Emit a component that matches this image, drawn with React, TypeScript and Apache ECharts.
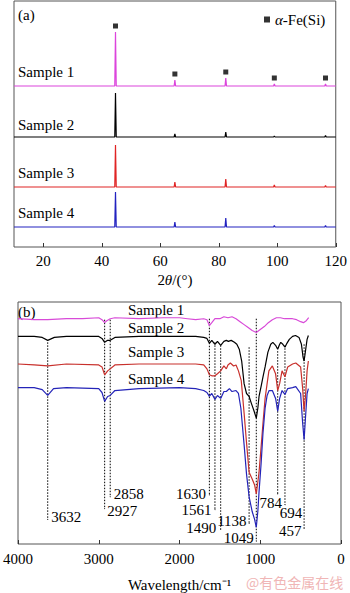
import React, { useEffect, useRef } from "react";
import * as echarts from "echarts";

// ---------- (a) XRD data ----------
const xrdTicks = [20, 40, 60, 80, 100, 120];
const xrdPeakPos = [44.7, 65.0, 82.4, 99.0, 116.5];
const xrdSample1 = [54, 6, 8, 2, 2];
const xrdSample2 = [44, 3, 5, 1, 1.5];
const xrdSample3 = [42, 5, 8, 2, 1.5];
const xrdSample4 = [35, 5, 9, 1.5, 1.5];
const xrdNames = ["Sample 1", "Sample 2", "Sample 3", "Sample 4"];

// ---------- (b) FTIR data (relative transmittance) ----------
const ftirWn1 = [4000, 3800, 3632, 3400, 3200, 3000, 2960, 2927, 2900, 2858, 2800, 2500, 2200, 2000, 1900, 1800, 1700, 1660, 1630, 1600, 1561, 1500, 1450, 1400, 1350, 1300, 1250, 1200, 1150, 1100, 1049, 1000, 950, 900, 850, 800, 750, 700, 650, 600, 550, 500, 465, 430, 400];
const ftirT1 = [0, -1, -1, 0, 0, 1, -1, -4, -2, 0, 1, 0, 1, 1, 0, -1, 0, -1, -7, -4, 0, 0, 2, 1, 2, 0, -3, -6, -9, -12, -14, -11, -8, -4, -1, 1, 1, 0, 0, 0, -1, -3, -4, -2, 1];

const ftirWn2 = [4000, 3800, 3700, 3632, 3550, 3400, 3000, 2960, 2927, 2890, 2858, 2800, 2500, 2200, 2000, 1800, 1700, 1660, 1630, 1600, 1561, 1530, 1490, 1450, 1420, 1395, 1360, 1320, 1290, 1260, 1230, 1200, 1170, 1138, 1110, 1080, 1049, 1030, 1015, 990, 966, 940, 905, 870, 844, 810, 784, 765, 746, 720, 694, 670, 640, 600, 563, 520, 490, 470, 457, 440, 420, 404];
const ftirT2 = [0, 0, -1, -4, -1, 0, 0, -2, -6, -4, -4, -1, 0, 0, 0, 0, -1, -2, -7, -4, -8, -5, -9, -5, -4, -5, -4, -6, -8, -13, -25, -48, -58, -61, -68, -75, -83, -73, -61, -51, -41, -31, -16, -8, -6, -9, -13, -9, -6, -8, -11, -7, -3, 0, 1, -1, -8, -21, -25, -15, -3, 1];

const ftirWn3 = [4000, 3800, 3632, 3400, 3000, 2960, 2927, 2890, 2858, 2800, 2500, 2000, 1800, 1700, 1660, 1630, 1600, 1561, 1530, 1490, 1450, 1420, 1400, 1370, 1330, 1300, 1270, 1235, 1200, 1170, 1138, 1100, 1070, 1049, 1030, 1015, 990, 966, 940, 915, 893, 850, 810, 784, 760, 730, 694, 660, 600, 560, 500, 475, 457, 440, 420, 404];
const ftirT3 = [0, -1, -2, 0, -1, -3, -11, -7, -5, -1, 0, 0, 0, -1, -5, -11, -12, -12, -10, -7, -2, -5, -1, 1, -2, -1, -7, -17, -50, -80, -110, -117, -123, -132, -120, -110, -85, -60, -35, -20, -7, -2, -10, -27, -20, -7, -13, -3, 0, 1, -3, -25, -48, -33, -7, 3];

const ftirWn4 = [4000, 3800, 3700, 3632, 3560, 3400, 3000, 2960, 2927, 2890, 2858, 2800, 2500, 2000, 1800, 1700, 1660, 1630, 1600, 1561, 1530, 1490, 1450, 1420, 1382, 1350, 1300, 1270, 1240, 1200, 1170, 1138, 1100, 1070, 1049, 1030, 1015, 990, 966, 940, 915, 890, 850, 810, 784, 760, 730, 694, 660, 600, 560, 500, 475, 457, 440, 420, 404];
const ftirT4 = [0, 0, -2, -8, -1, 0, -1, -5, -14, -9, -8, -3, -1, 0, -1, -3, -5, -9, -6, -12, -8, -11, -4, -4, -1, -4, -3, -6, -21, -58, -88, -111, -126, -134, -142, -126, -106, -78, -46, -21, -8, -3, -3, -11, -24, -11, -3, -7, -1, 0, 1, -6, -36, -53, -31, -6, -1];

const ftirPeakWn = [3632, 2927, 2858, 1630, 1561, 1490, 1138, 1049, 784, 694, 457];

// ---------- layout / style constants ----------
const FONT = '"Liberation Serif", "Times New Roman", serif';
const XRD_OFFSETS = [161, 110, 60, 20];
const XRD_MARK_GAP = 6;
const FTIR_OFFSETS = [229, 211, 183, 159];
const GUIDE_TOP = [205, 228, 228, 229, 205, 202, 200, 229, 196, 202, 203];
const GUIDE_BOTTOM = [25, 36, 48, 50, 35, 15, 21, 3, 51, 40, 16];
const GUIDE_LABEL: any[] = [
  { position: "right", distance: 3, offset: [0, -2] },
  { position: "right", distance: 2, offset: [0, 2] },
  { position: "right", distance: 3, offset: [0, -3] },
  { position: "left", distance: 3, offset: [0, -1] },
  { position: "left", distance: 3, offset: [0, 0] },
  { position: "left", distance: 4, offset: [0, -1] },
  { position: "left", distance: 2, offset: [0, -2] },
  { position: "left", distance: 2, offset: [0, -3] },
  { position: "bottom", distance: 1, offset: [-7, 0] },
  { position: "bottom", distance: 0, offset: [6, 0] },
  { position: "left", distance: 2, offset: [0, 3] },
];
const XRD_COLORS = ["#dc44dc", "#000000", "#e02424", "#2222c0"];
const FTIR_COLORS = ["#d84ad8", "#000000", "#c8302c", "#2424b8"];

function xrdSeriesData(heights: number[], offset: number) {
  const pts: number[][] = [[10, offset]];
  xrdPeakPos.forEach((p, i) => {
    pts.push([p - 0.25, offset], [p, offset + heights[i]], [p + 0.25, offset]);
  });
  pts.push([120, offset]);
  return pts;
}

export default function App() {
  const ref = useRef<HTMLDivElement>(null);
  useEffect(() => {
    if (!ref.current) return;
    const chart = echarts.init(ref.current, null, { renderer: "svg" });
    const xrdAll = [xrdSample1, xrdSample2, xrdSample3, xrdSample4];
    const ftirWnAll = [ftirWn1, ftirWn2, ftirWn3, ftirWn4];
    const ftirTAll = [ftirT1, ftirT2, ftirT3, ftirT4];

    const series: any[] = [];
    xrdAll.forEach((h, i) => {
      series.push({
        type: "line",
        name: xrdNames[i] + " XRD",
        xAxisIndex: 0,
        yAxisIndex: 0,
        data: xrdSeriesData(h, XRD_OFFSETS[i]),
        symbol: "none",
        lineStyle: { color: XRD_COLORS[i], width: 1.2 },
        z: 3,
      });
    });
    series.push({
      type: "scatter",
      name: "α-Fe(Si)",
      xAxisIndex: 0,
      yAxisIndex: 0,
      symbol: "rect",
      symbolSize: 5,
      itemStyle: { color: "#000" },
      data: xrdPeakPos.map((p, i) => [p, XRD_OFFSETS[0] + xrdSample1[i] + XRD_MARK_GAP]),
    });
    ftirTAll.forEach((t, i) => {
      series.push({
        type: "line",
        name: xrdNames[i] + " FTIR",
        xAxisIndex: 1,
        yAxisIndex: 1,
        data: ftirWnAll[i].map((w, k) => [w, FTIR_OFFSETS[i] + t[k]]),
        symbol: "none",
        lineStyle: { color: FTIR_COLORS[i], width: 1.2 },
        z: 3,
      });
    });
    ftirPeakWn.forEach((w, i) => {
      series.push({
        type: "line",
        xAxisIndex: 1,
        yAxisIndex: 1,
        symbol: "none",
        lineStyle: { color: "#000", width: 1, type: [1.5, 1.5] },
        data: [[w, GUIDE_TOP[i]], [w, GUIDE_BOTTOM[i]]],
        z: 2,
      });
    });
    series.push({
      type: "scatter",
      xAxisIndex: 1,
      yAxisIndex: 1,
      symbol: "circle",
      symbolSize: 1,
      itemStyle: { color: "#000", opacity: 1 },
      data: ftirPeakWn.map((w, i) => ({
        value: [w, GUIDE_BOTTOM[i]],
        label: {
          show: true,
          formatter: String(w),
          fontSize: 15,
          fontFamily: FONT,
          color: "#000",
          opacity: 1,
          ...GUIDE_LABEL[i],
        },
      })),
      z: 4,
    });

    const sampleText = (x: number, y: number, text: string) => ({
      type: "text",
      x,
      y,
      style: { text, fill: "#000", font: `15px ${FONT}`, align: "left", verticalAlign: "middle" },
    });

    chart.setOption({
      animation: false,
      backgroundColor: "#fff",
      grid: [
        { left: 14, top: 1, width: 327, height: 246, show: true, borderColor: "#555", borderWidth: 1 },
        { left: 14, top: 302, width: 327, height: 246, show: true, borderColor: "#555", borderWidth: 1 },
      ],
      legend: {
        data: [{ name: "α-Fe(Si)", icon: "rect" }],
        left: 264,
        top: 12,
        padding: 0,
        itemWidth: 6,
        itemHeight: 6,
        selectedMode: false,
        formatter: () => "{i|α}-Fe(Si)",
        textStyle: {
          fontSize: 15,
          fontFamily: FONT,
          color: "#000",
          rich: { i: { fontStyle: "italic", fontSize: 15, fontFamily: FONT, color: "#000" } },
        },
      },
      xAxis: [
        {
          gridIndex: 0,
          type: "value",
          min: 10,
          max: 120,
          axisLine: { show: false },
          splitLine: { show: false },
          axisTick: { inside: true, length: 4, customValues: xrdTicks, lineStyle: { color: "#333" } },
          axisLabel: {
            customValues: xrdTicks,
            margin: 6,
            fontSize: 15,
            fontFamily: FONT,
            color: "#000",
            formatter: (v: number) => String(v),
          },
          name: "2{i|θ}/(°)",
          nameLocation: "middle",
          nameGap: 25,
          nameTextStyle: {
            fontSize: 15,
            fontFamily: FONT,
            color: "#000",
            rich: { i: { fontStyle: "italic", fontSize: 15, fontFamily: FONT, color: "#000" } },
          },
        },
        {
          gridIndex: 1,
          type: "value",
          min: 0,
          max: 4000,
          interval: 1000,
          inverse: true,
          axisLine: { show: false },
          splitLine: { show: false },
          axisTick: { inside: true, length: 4, lineStyle: { color: "#333" } },
          axisLabel: {
            margin: 7,
            fontSize: 15,
            fontFamily: FONT,
            color: "#000",
            formatter: (v: number) => String(v),
          },
          name: "Wavelength/cm⁻¹",
          nameLocation: "middle",
          nameGap: 33,
          nameTextStyle: { fontSize: 15, fontFamily: FONT, color: "#000" },
        },
      ],
      yAxis: [
        { gridIndex: 0, type: "value", min: 0, max: 246, show: false },
        { gridIndex: 1, type: "value", min: 0, max: 246, show: false },
      ],
      graphic: [
        sampleText(18, 15, "(a)"),
        sampleText(18, 72, "Sample 1"),
        sampleText(18, 125, "Sample 2"),
        sampleText(18, 173, "Sample 3"),
        sampleText(18, 213, "Sample 4"),
        sampleText(18, 312, "(b)"),
        sampleText(128, 310, "Sample 1"),
        sampleText(128, 328, "Sample 2"),
        sampleText(128, 352, "Sample 3"),
        sampleText(128, 379, "Sample 4"),
        {
          type: "text",
          x: 246,
          y: 582,
          style: {
            text: "@有色金属在线",
            fill: "#f0b6b6",
            font: '14px "Noto Sans CJK SC", sans-serif',
            align: "left",
            verticalAlign: "middle",
          },
        },
      ],
      series,
    });
    return () => chart.dispose();
  }, []);
  return (
    <div
      ref={ref}
      style={{ position: "fixed", left: 0, top: 0, width: 350, height: 593, background: "#fff" }}
    />
  );
}
